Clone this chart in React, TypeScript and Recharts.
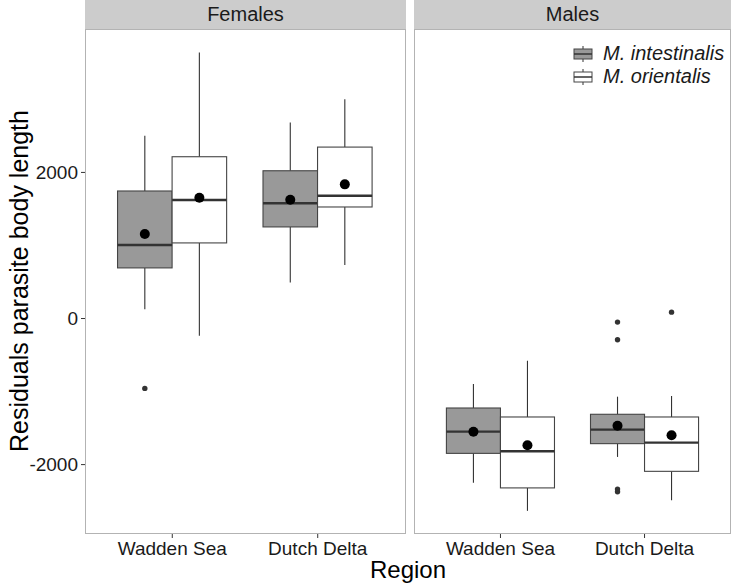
import { Bar, ComposedChart, XAxis, YAxis } from "recharts";

const regions = ["Wadden Sea", "Dutch Delta"];
const yTicks = [-2000, 0, 2000];

// box stats per region (same order as regions)
const femalesIntestinalis = [
  { lo: 128, q1: 693, median: 1007, q3: 1746, hi: 2502, mean: 1158, outliers: [-957] },
  { lo: 492, q1: 1254, median: 1578, q3: 2023, hi: 2685, mean: 1627, outliers: [] },
];
const femalesOrientalis = [
  { lo: -236, q1: 1035, median: 1623, q3: 2215, hi: 3642, mean: 1654, outliers: [] },
  { lo: 734, q1: 1527, median: 1681, q3: 2347, hi: 3003, mean: 1837, outliers: [] },
];
const malesIntestinalis = [
  { lo: -2250, q1: -1846, median: -1549, q3: -1225, hi: -897, mean: -1549, outliers: [] },
  { lo: -1895, q1: -1713, median: -1521, q3: -1311, hi: -1070, mean: -1467, outliers: [-49, -291, -2335, -2372] },
];
const malesOrientalis = [
  { lo: -2633, q1: -2319, median: -1818, q3: -1348, hi: -578, mean: -1736, outliers: [] },
  { lo: -2488, q1: -2092, median: -1699, q3: -1348, hi: -1061, mean: -1599, outliers: [87] },
];

const FONT = '"Liberation Sans", Arial, Helvetica, sans-serif';
const PLOT_TOP = 30;
const PLOT_H = 504;
const AXIS_H = 52;

function buildRows(a, b) {
  return regions.map((region, i) => ({ region, a: a[i], b: b[i] }));
}

function BoxShape(props) {
  const { x, y, width, height, stats, fill } = props;
  if (!stats || height == null) return null;
  const { lo, hi } = stats;
  // map any value through the bar's own pixel range (lo..hi)
  const py = (v) => y + (height * (hi - v)) / (hi - lo);
  const cx = x + width / 2;
  return (
    <g>
      <line x1={cx} x2={cx} y1={py(hi)} y2={py(stats.q3)} stroke="#333" strokeWidth={1.1} />
      <line x1={cx} x2={cx} y1={py(stats.q1)} y2={py(lo)} stroke="#333" strokeWidth={1.1} />
      <rect
        x={x}
        y={py(stats.q3)}
        width={width}
        height={py(stats.q1) - py(stats.q3)}
        fill={fill}
        stroke="#444"
        strokeWidth={1.1}
      />
      <line x1={x} x2={x + width} y1={py(stats.median)} y2={py(stats.median)} stroke="#333" strokeWidth={2.4} />
      {stats.outliers.map((o, i) => (
        <circle key={i} cx={cx} cy={py(o)} r={2.7} fill="#333" />
      ))}
      <circle cx={cx} cy={py(stats.mean)} r={5} fill="#000" />
    </g>
  );
}

function Panel({ rows, width, showY }) {
  const pad = width / 22;
  const barSize = (width * 0.375) / 2.2;
  return (
    <ComposedChart
      width={width + (showY ? 85 : 0)}
      height={PLOT_H + AXIS_H}
      data={rows}
      margin={{ top: 0, right: 0, bottom: 0, left: 0 }}
      barGap={0}
    >
      <XAxis
        dataKey="region"
        type="category"
        interval={0}
        padding={{ left: pad, right: pad }}
        height={AXIS_H}
        axisLine={false}
        tickSize={4}
        tickMargin={4}
        tickLine={{ stroke: "#333" }}
        tick={{ fill: "#1a1a1a", fontSize: 19, fontFamily: FONT }}
      />
      <YAxis
        type="number"
        domain={[-2950, 3950]}
        ticks={yTicks}
        allowDataOverflow
        hide={!showY}
        width={85}
        axisLine={false}
        tickSize={4}
        tickMargin={3}
        tickLine={{ stroke: "#333" }}
        tick={{ fill: "#1a1a1a", fontSize: 19, fontFamily: FONT }}
      />
      <Bar
        dataKey={(d) => [d.a.lo, d.a.hi]}
        barSize={barSize}
        isAnimationActive={false}
        shape={(p) => <BoxShape {...p} stats={p.payload.a} fill="#999999" />}
      />
      <Bar
        dataKey={(d) => [d.b.lo, d.b.hi]}
        barSize={barSize}
        isAnimationActive={false}
        shape={(p) => <BoxShape {...p} stats={p.payload.b} fill="#ffffff" />}
      />
    </ComposedChart>
  );
}

function Strip({ left, width, label }) {
  return (
    <div
      style={{
        position: "absolute",
        left,
        top: 0,
        width,
        height: PLOT_TOP - 1,
        background: "#cccccc",
        display: "flex",
        alignItems: "center",
        justifyContent: "center",
        fontSize: 20,
        color: "#1a1a1a",
      }}
    >
      {label}
    </div>
  );
}

function Frame({ left, width }) {
  return (
    <div
      style={{
        position: "absolute",
        left,
        top: PLOT_TOP - 1,
        width,
        height: PLOT_H + 1,
        border: "1px solid #b3b3b3",
        boxSizing: "border-box",
        pointerEvents: "none",
      }}
    />
  );
}

function LegendKey({ fill }) {
  return (
    <svg width={20} height={16} style={{ marginRight: 10 }}>
      <line x1={10} x2={10} y1={0} y2={16} stroke="#333" strokeWidth={1} />
      <rect x={1} y={3} width={18} height={10} fill={fill} stroke="#444" strokeWidth={1} />
      <line x1={1} x2={19} y1={8} y2={8} stroke="#333" strokeWidth={1.5} />
    </svg>
  );
}

export default function App() {
  return (
    <div style={{ position: "relative", width: 735, height: 586, background: "#fff", fontFamily: FONT }}>
      <style>{`body{margin:0}`}</style>
      <div style={{ position: "absolute", left: 0, top: PLOT_TOP }}>
        <Panel rows={buildRows(femalesIntestinalis, femalesOrientalis)} width={320} showY />
      </div>
      <div style={{ position: "absolute", left: 414, top: PLOT_TOP }}>
        <Panel rows={buildRows(malesIntestinalis, malesOrientalis)} width={317} showY={false} />
      </div>
      <Frame left={85} width={321} />
      <Frame left={414} width={317} />
      <Strip left={85} width={321} label="Females" />
      <Strip left={414} width={317} label="Males" />
      <div style={{ position: "absolute", left: 573, top: 42, fontSize: 20, fontStyle: "italic", color: "#1a1a1a", lineHeight: "23px" }}>
        <div style={{ display: "flex", alignItems: "center" }}>
          <LegendKey fill="#999999" />
          M. intestinalis
        </div>
        <div style={{ display: "flex", alignItems: "center" }}>
          <LegendKey fill="#ffffff" />
          M. orientalis
        </div>
      </div>
      <div
        style={{
          position: "absolute",
          left: 19,
          top: 281,
          transform: "translate(-50%, -50%) rotate(-90deg)",
          whiteSpace: "nowrap",
          fontSize: 25,
          color: "#000",
        }}
      >
        Residuals parasite body length
      </div>
      <div
        style={{
          position: "absolute",
          left: 408,
          top: 570,
          transform: "translate(-50%, -50%)",
          whiteSpace: "nowrap",
          fontSize: 24,
          color: "#000",
        }}
      >
        Region
      </div>
    </div>
  );
}
